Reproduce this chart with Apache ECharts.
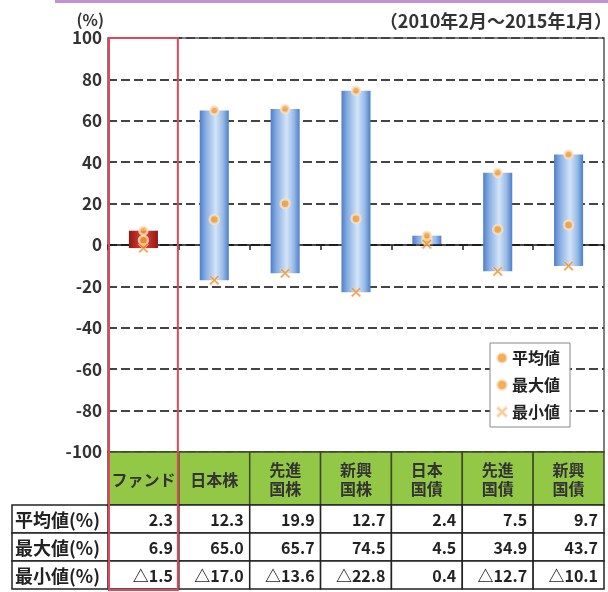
<!DOCTYPE html>
<html><head><meta charset="utf-8">
<script src="https://cdn.jsdelivr.net/npm/echarts@6/dist/echarts.min.js"></script>
<style>html,body{margin:0;padding:0;background:#fff}#c{width:608px;height:592px}</style>
</head><body><div id="c"></div>
<script>
var categories = ['ファンド','日本株','先進国株','新興国株','日本国債','先進国債','新興国債'];
var headerLabels = ['ファンド','日本株','先進\n国株','新興\n国株','日本\n国債','先進\n国債','新興\n国債'];
var meanValues = [2.3, 12.3, 19.9, 12.7, 2.4, 7.5, 9.7];
var maxValues = [6.9, 65.0, 65.7, 74.5, 4.5, 34.9, 43.7];
var minValues = [-1.5, -17.0, -13.6, -22.8, 0.4, -12.7, -10.1];
var rowLabels = ['平均値(%)', '最大値(%)', '最小値(%)'];
var seriesNames = ['平均値', '最大値', '最小値'];
var yMin = -100, yMax = 100, yInterval = 20;
var periodLabel = '（2010年2月～2015年1月）';
var unitLabel = '(%)';

var FONT = '"Noto Sans CJK JP", "Noto Sans", sans-serif';
var HEADER_H = 53, ROW_H = 28, LABEL_LEFT = 12;
var rowValues = [meanValues, maxValues, minValues];

function fmt(v) { return v < 0 ? '△' + Math.abs(v).toFixed(1) : v.toFixed(1); }

var chart = echarts.init(document.getElementById('c'), null, {renderer: 'canvas'});

var blueStops = [
  {offset: 0, color: '#4f7fc8'}, {offset: 0.2, color: '#86ade3'},
  {offset: 0.55, color: '#d3e4f7'}, {offset: 0.8, color: '#97bae8'}, {offset: 1, color: '#4f7fc8'}];
var redStops = [
  {offset: 0, color: '#8e1a12'}, {offset: 0.3, color: '#c2322a'},
  {offset: 0.5, color: '#d4493c'}, {offset: 0.7, color: '#c2322a'}, {offset: 1, color: '#8e1a12'}];

var markerStyle = {color: '#f09a35', borderColor: 'rgba(253,226,196,0.95)', borderWidth: 2.5};

var option = {
  animation: false,
  textStyle: {fontFamily: FONT},
  title: {text: periodLabel, right: -9, top: 7, textStyle: {fontSize: 18, fontWeight: 'bold', color: '#333', fontFamily: FONT}},
  grid: {left: 108, right: 4, top: 38, bottom: 140, show: true, borderColor: '#555', borderWidth: 1.5, backgroundColor: 'transparent'},
  legend: {
    orient: 'vertical', left: 490, top: 343, data: seriesNames,
    backgroundColor: '#fff', borderColor: '#888', borderWidth: 1, padding: [7, 10, 7, 6],
    itemGap: 11, itemWidth: 10, itemHeight: 10,
    textStyle: {fontSize: 16, color: '#222', fontWeight: 'bold', fontFamily: FONT}
  },
  xAxis: {
    type: 'category', data: categories, boundaryGap: true,
    axisLabel: {show: false},
    axisTick: {show: true, interval: 0, length: 5, lineStyle: {color: '#222', width: 1.5}},
    axisLine: {onZero: true, lineStyle: {color: '#111', width: 1.5}},
    splitLine: {show: false}
  },
  yAxis: {
    type: 'value', min: yMin, max: yMax, interval: yInterval,
    name: unitLabel, nameLocation: 'end', nameGap: 10,
    nameTextStyle: {fontSize: 16, color: '#333', fontWeight: 'bold', align: 'right', padding: [0, 4, 0, 0], fontFamily: FONT},
    axisLabel: {fontSize: 17, color: '#333', fontWeight: 'bold', margin: 6, fontFamily: FONT},
    axisLine: {show: false}, axisTick: {show: false},
    splitLine: {lineStyle: {type: [9, 4], color: '#444', width: 2}}
  },
  series: [
    {
      type: 'custom', name: 'range', z: 3,
      data: categories.map(function (c, i) { return [i, minValues[i], maxValues[i]]; }),
      encode: {x: 0, y: [1, 2]},
      renderItem: function (params, api) {
        var i = api.value(0);
        var lo = api.coord([i, api.value(1)]);
        var hi = api.coord([i, api.value(2)]);
        var bw = api.size([1, 0])[0] * 0.41;
        var fill = new echarts.graphic.LinearGradient(0, 0, 1, 0, i === 0 ? redStops : blueStops);
        return {type: 'rect', shape: {x: lo[0] - bw / 2, y: hi[1], width: bw, height: lo[1] - hi[1]}, style: {fill: fill}};
      }
    },
    {type: 'scatter', name: seriesNames[0], z: 5, data: meanValues, symbol: 'circle', symbolSize: 9, itemStyle: markerStyle},
    {type: 'scatter', name: seriesNames[1], z: 5, data: maxValues, symbol: 'circle', symbolSize: 8, itemStyle: markerStyle},
    {type: 'scatter', name: seriesNames[2], z: 5, data: minValues, symbolSize: 10,
      symbol: 'path://M0,1.4L1.4,0L5,3.6L8.6,0L10,1.4L6.4,5L10,8.6L8.6,10L5,6.4L1.4,10L0,8.6L3.6,5Z',
      itemStyle: {color: '#ee8f28', borderColor: 'rgba(253,226,196,0.8)', borderWidth: 0.8}},
    {
      type: 'custom', name: 'table', z: 6, silent: true,
      data: categories.map(function (c, i) { return [i, yMin]; }),
      encode: {x: 0, y: 1},
      renderItem: function (params, api) {
        var i = api.value(0);
        var p = api.coord([i, yMin]);
        var w = api.size([1, 0])[0];
        var x0 = p[0] - w / 2, y0 = p[1];
        var ch = [];
        ch.push({type: 'rect', shape: {x: x0, y: y0, width: w, height: HEADER_H},
          style: {fill: '#93c847', stroke: '#3d4a2a', lineWidth: 1.5}});
        ch.push({type: 'text', style: {text: headerLabels[i], x: p[0], y: y0 + HEADER_H / 2 + 1,
          align: 'center', verticalAlign: 'middle', fontSize: 16, fontWeight: 'bold', lineHeight: 19, fontFamily: FONT, fill: '#333'}});
        for (var r = 0; r < 3; r++) {
          var ry = y0 + HEADER_H + r * ROW_H;
          ch.push({type: 'rect', shape: {x: x0, y: ry, width: w, height: ROW_H},
            style: {fill: '#fff', stroke: '#222', lineWidth: 1.5}});
          ch.push({type: 'text', style: {text: fmt(rowValues[r][i]), x: x0 + w - 6, y: ry + ROW_H / 2 + 1,
            align: 'right', verticalAlign: 'middle', fontSize: 16, fontWeight: 'bold', fontFamily: FONT, fill: '#222'}});
        }
        return {type: 'group', children: ch};
      }
    },
    {
      type: 'custom', name: 'rowlabels', z: 6, silent: true,
      data: [[0, yMin]], encode: {x: 0, y: 1},
      renderItem: function (params, api) {
        var p = api.coord([0, yMin]);
        var w = api.size([1, 0])[0];
        var x1 = p[0] - w / 2;
        var ch = [];
        for (var r = 0; r < 3; r++) {
          var ry = p[1] + HEADER_H + r * ROW_H;
          ch.push({type: 'rect', shape: {x: LABEL_LEFT, y: ry, width: x1 - LABEL_LEFT, height: ROW_H},
            style: {fill: '#fff', stroke: '#222', lineWidth: 1.5}});
          ch.push({type: 'text', style: {text: rowLabels[r], x: LABEL_LEFT + 3, y: ry + ROW_H / 2 + 1,
            align: 'left', verticalAlign: 'middle', fontSize: 18, fontWeight: 'bold', fontFamily: FONT, fill: '#222'}});
        }
        return {type: 'group', children: ch};
      }
    },
    {
      type: 'custom', name: 'highlight', z: 8, silent: true,
      data: [[0, yMax]], encode: {x: 0, y: 1},
      renderItem: function (params, api) {
        var top = api.coord([0, yMax]);
        var bot = api.coord([0, yMin]);
        var w = api.size([1, 0])[0];
        return {type: 'rect', shape: {x: top[0] - w / 2 + 1, y: top[1], width: w - 2, height: bot[1] - top[1] + HEADER_H + 3 * ROW_H + 1},
          style: {fill: 'none', stroke: '#e0475a', lineWidth: 2}};
      }
    }
  ],
  graphic: [{type: 'rect', left: 55, top: 0, shape: {width: 553, height: 3}, style: {fill: '#c391d3'}}]
};
chart.setOption(option);
</script></body></html>
